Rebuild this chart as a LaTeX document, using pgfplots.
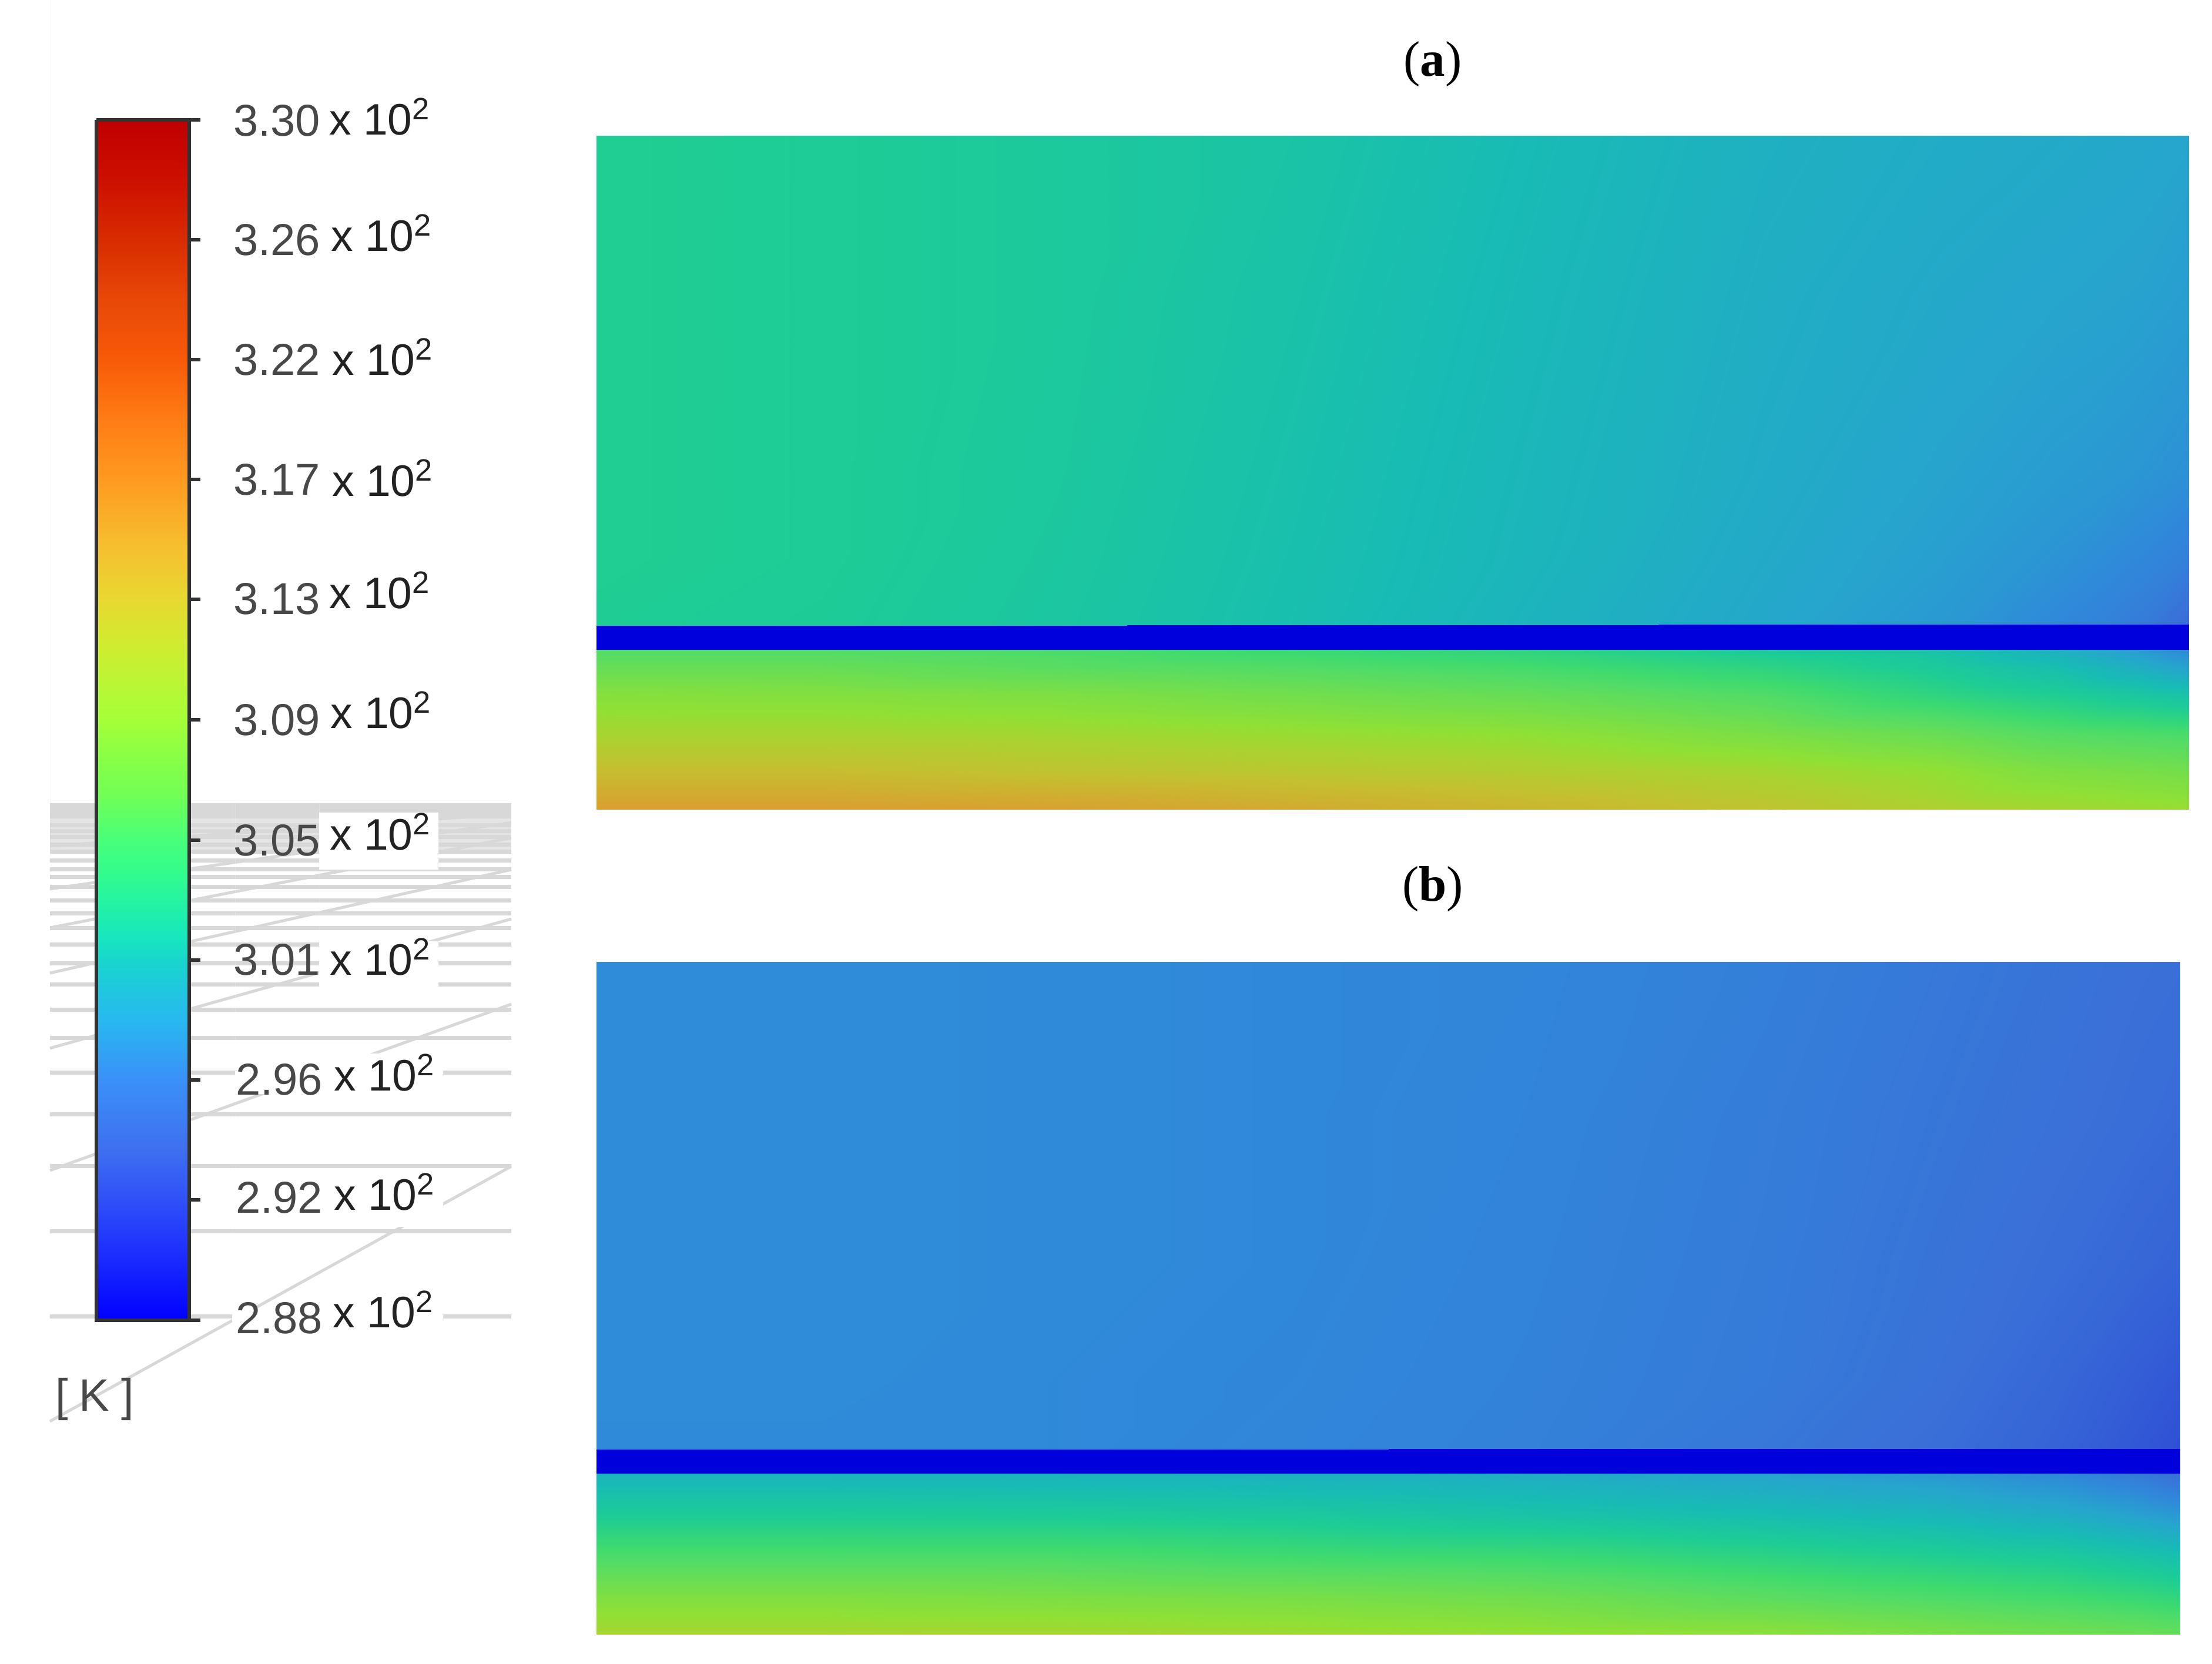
\documentclass[border=0pt]{standalone}
\usepackage{pgfplots}
\pgfplotsset{compat=1.18}
\usepackage{fontspec}
\setmainfont{Liberation Sans}
\newfontfamily\serifb{Liberation Serif}
\definecolor{numc}{HTML}{484848}
\definecolor{expc}{HTML}{222222}
\definecolor{gl}{HTML}{D8D8D8}
\pgfplotsset{
  pix/.style={at={(0,0)},anchor=south west,scale only axis,width=752.8pt,height=566.4pt,
    xmin=0,xmax=3764,ymin=0,ymax=2832,y dir=reverse,hide axis,clip=false},
  gh/.style={gl,line width=1.4pt},
  gd/.style={gl,line width=1pt},
  mask/.style={fill=white,draw=none},
  tk/.style={color=black!80,line width=1.2pt},
}
\newcommand{\lab}[5]{% number, x of number, baseline of number, x of "x", baseline of "x"
  \node[anchor=base west,inner sep=0pt,font=\fontsize{15.2}{18}\selectfont,text=numc] at (axis cs:#2,#3) {#1};
  \node[anchor=base west,inner sep=0pt,font=\fontsize{15}{18}\selectfont,text=expc] at (axis cs:#4,#5) {x 10\textsuperscript{2}};
}
\begin{document}
\begin{tikzpicture}
\path[use as bounding box] (0,0) rectangle (752.8pt,566.4pt);
% ---------- grey mesh, ticks and labels
\begin{axis}[pix]
\addplot[draw=none,fill=gl] coordinates {(85,1367)(870,1367)(870,1386)(85,1386)} \closedcycle;
\addplot[draw=none,fill=black!10] coordinates {(85,1386)(870,1386)(870,1450)(85,1450)} \closedcycle;
\addplot[gh] coordinates {(85,1390)(870,1390)};
\addplot[gh] coordinates {(85,1405)(870,1405)};
\addplot[gh] coordinates {(85,1415)(870,1415)};
\addplot[gh] coordinates {(85,1425)(870,1425)};
\addplot[gh] coordinates {(85,1438)(870,1438)};
\addplot[gh] coordinates {(85,1450)(870,1450)};
\addplot[gh] coordinates {(85,1465)(870,1465)};
\addplot[gh] coordinates {(85,1480)(870,1480)};
\addplot[gh] coordinates {(85,1493)(870,1493)};
\addplot[gh] coordinates {(85,1510)(870,1510)};
\addplot[gh] coordinates {(85,1533)(870,1533)};
\addplot[gh] coordinates {(85,1555)(870,1555)};
\addplot[gh] coordinates {(85,1580)(870,1580)};
\addplot[gh] coordinates {(85,1608)(870,1608)};
\addplot[gh] coordinates {(85,1640)(870,1640)};
\addplot[gh] coordinates {(85,1676)(870,1676)};
\addplot[gh] coordinates {(85,1719)(870,1719)};
\addplot[gh] coordinates {(85,1767)(870,1767)};
\addplot[gh] coordinates {(85,1826)(870,1826)};
\addplot[gh] coordinates {(85,1897)(870,1897)};
\addplot[gh] coordinates {(85,1985)(870,1985)};
\addplot[gh] coordinates {(85,2096)(870,2096)};
\addplot[gh] coordinates {(85,2241)(870,2241)};
\addplot[gd] coordinates {(85,2419)(870,1985)};
\addplot[gd] coordinates {(85,1992)(870,1709)};
\addplot[gd] coordinates {(85,1784)(870,1564)};
\addplot[gd] coordinates {(85,1656)(870,1480)};
\addplot[gd] coordinates {(85,1579)(870,1426)};
\addplot[gd] coordinates {(85,1513)(870,1400)};
\addplot[gd] coordinates {(85,1440)(870,1385)};
% white boxes behind the labels
\addplot[mask] coordinates {(543,1383)(746,1383)(746,1480)(543,1480)} \closedcycle;
\addplot[mask] coordinates {(543,1602)(746,1602)(746,1679)(543,1679)} \closedcycle;
\addplot[mask] coordinates {(400,1793)(754,1793)(754,1862)(400,1862)} \closedcycle;
\addplot[mask] coordinates {(400,1992)(754,1992)(754,2088)(400,2088)} \closedcycle;
\addplot[mask] coordinates {(395,2226)(754,2226)(754,2280)(395,2280)} \closedcycle;
% ticks
\addplot[tk] coordinates {(322,204)(341,204)};
\addplot[tk] coordinates {(322,408)(341,408)};
\addplot[tk] coordinates {(322,612)(341,612)};
\addplot[tk] coordinates {(322,816)(341,816)};
\addplot[tk] coordinates {(322,1020)(341,1020)};
\addplot[tk] coordinates {(322,1225)(341,1225)};
\addplot[tk] coordinates {(322,1430)(341,1430)};
\addplot[tk] coordinates {(322,1634)(341,1634)};
\addplot[tk] coordinates {(322,1838)(341,1838)};
\addplot[tk] coordinates {(322,2042)(341,2042)};
\addplot[tk] coordinates {(322,2247)(341,2247)};
\lab{3.30}{396}{232}{559}{230}
\lab{3.26}{396}{435}{562}{428}
\lab{3.22}{396}{639}{564}{639}
\lab{3.17}{396}{843}{564}{845}
\lab{3.13}{396}{1046}{559}{1036}
\lab{3.09}{396}{1252}{561}{1240}
\lab{3.05}{396}{1457}{560}{1447}
\lab{3.01}{396}{1660}{560}{1660}
\lab{2.96}{400}{1864}{567}{1857}
\lab{2.92}{400}{2065}{567}{2060}
\lab{2.88}{400}{2270}{565}{2260}
\node[anchor=base west,inner sep=0pt,font=\fontsize{15.5}{18}\selectfont,text=numc] at (axis cs:93,2402) {[\hspace{3.8pt}K\hspace{4pt}]};
\node[anchor=base,inner sep=0pt,font=\fontsize{17}{20}\selectfont\serifb] at (axis cs:2438,130) {(\textbf{a})};
\node[anchor=base,inner sep=0pt,font=\fontsize{17}{20}\selectfont\serifb] at (axis cs:2438,1534) {(\textbf{b})};
\end{axis}
% ---------- colour bar
\begin{axis}[pix,view={0}{90},point meta min=288,point meta max=330,
  colormap={cbar}{
    rgb255(288)=(0,0,255) rgb255(290.1)=(26,42,255) rgb255(292.2)=(48,80,248)
    rgb255(294)=(63,112,240) rgb255(296.4)=(58,144,248) rgb255(298.5)=(40,184,240)
    rgb255(300.6)=(24,214,205) rgb255(301.3)=(24,228,192) rgb255(302.3)=(32,240,170)
    rgb255(303.8)=(53,253,138) rgb255(304.8)=(72,255,122) rgb255(306.4)=(114,255,85)
    rgb255(307.5)=(133,255,72) rgb255(309)=(165,255,56) rgb255(311.6)=(208,236,48)
    rgb255(313.2)=(232,216,48)
    rgb255(315)=(245,192,48) rgb255(317.4)=(255,154,32) rgb255(319.5)=(255,124,21)
    rgb255(321.6)=(248,90,8) rgb255(323.7)=(232,72,8) rgb255(325.8)=(216,44,0)
    rgb255(328)=(204,14,0) rgb255(330)=(192,0,0)}]
\addplot3[surf,shader=interp,mesh/cols=2] coordinates {
(163,204,330) (322,204,330)

(163,408,325.8) (322,408,325.8)

(163,612,321.6) (322,612,321.6)

(163,816,317.4) (322,816,317.4)

(163,1020,313.2) (322,1020,313.2)

(163,1225,309) (322,1225,309)

(163,1430,304.8) (322,1430,304.8)

(163,1634,300.6) (322,1634,300.6)

(163,1838,296.4) (322,1838,296.4)

(163,2042,292.2) (322,2042,292.2)

(163,2247,288) (322,2247,288)
};
\addplot3[black!80,line width=1.2pt] coordinates {(164,204,330)(322,204,330)(322,2247,288)(164,2247,288)(164,204,330)};
\end{axis}
% ---------- the two temperature fields
\begin{axis}[pix,view={0}{90},point meta min=288,point meta max=311.5,
  colormap={panel}{
    rgb255(288)=(0,0,220) rgb255(290.5)=(47,80,213) rgb255(293)=(58,112,216)
    rgb255(295)=(48,136,218) rgb255(297)=(38,165,205) rgb255(299)=(24,187,181)
    rgb255(301)=(29,204,150) rgb255(303)=(62,218,112) rgb255(304)=(85,220,101)
    rgb255(307)=(144,224,53) rgb255(308)=(168,212,48) rgb255(309.5)=(196,192,48)
    rgb255(311.5)=(218,158,48)}]
% (a) upper part
\addplot3[surf,shader=interp,mesh/cols=10] coordinates {
(1015,231,301.2)(1400,231,301)(1800,231,300.6)(2200,231,300)(2600,231,299)(3000,231,298)(3300,231,297.6)(3500,231,297.4)(3640,231,297.2)(3725,231,297)

(1015,500,301.2)(1400,500,301)(1800,500,300.6)(2200,500,299.8)(2600,500,298.8)(3000,500,297.8)(3300,500,297.3)(3500,500,297)(3640,500,296.8)(3725,500,296.5)

(1015,800,301.2)(1400,800,301)(1800,800,300.5)(2200,800,299.6)(2600,800,298.6)(3000,800,297.6)(3300,800,296.9)(3500,800,296.4)(3640,800,296)(3725,800,295.6)

(1015,950,301.2)(1400,950,301)(1800,950,300.4)(2200,950,299.5)(2600,950,298.5)(3000,950,297.4)(3300,950,296.6)(3500,950,295.8)(3640,950,295)(3725,950,294.3)

(1015,1065,301.1)(1400,1065,300.9)(1800,1065,300.3)(2200,1065,299.4)(2600,1065,298.3)(3000,1065,297.2)(3300,1065,296.2)(3500,1065,295)(3640,1065,294)(3725,1065,292.5)
};
% (a) lower part
\addplot3[surf,shader=interp,mesh/cols=10] coordinates {
(1015,1105,303.8)(1400,1105,303.8)(1800,1105,303.4)(2200,1105,302.7)(2600,1105,302)(3000,1105,300.7)(3300,1105,299.8)(3500,1105,298)(3640,1105,296.3)(3725,1105,295)

(1015,1140,305)(1400,1140,305)(1800,1140,304.4)(2200,1140,304)(2600,1140,303.4)(3000,1140,302.2)(3300,1140,300.8)(3500,1140,299.5)(3640,1140,298)(3725,1140,297)

(1015,1180,306.4)(1400,1180,306.3)(1800,1180,306)(2200,1180,305.4)(2600,1180,304.8)(3000,1180,303.7)(3300,1180,302)(3500,1180,301)(3640,1180,300.2)(3725,1180,299.7)

(1015,1250,308)(1400,1250,308)(1800,1250,307.8)(2200,1250,307.4)(2600,1250,307)(3000,1250,305.9)(3300,1250,305)(3500,1250,304)(3640,1250,303.7)(3725,1250,303.5)

(1015,1310,309.6)(1400,1310,309.6)(1800,1310,309.2)(2200,1310,308.9)(2600,1310,308.5)(3000,1310,307.8)(3300,1310,307)(3500,1310,306)(3640,1310,305.7)(3725,1310,305.5)

(1015,1377,311.5)(1400,1377,311.5)(1800,1377,311.3)(2200,1377,310.8)(2600,1377,310.2)(3000,1377,309.3)(3300,1377,308.3)(3500,1377,307.8)(3640,1377,307.5)(3725,1377,307.3)
};
% (a) cold layer
\addplot3[surf,shader=interp,mesh/cols=2] coordinates {
(1015,1065,288)(3725,1062,288)

(1015,1105,288)(3725,1105,288)
};
% (b) upper part
\addplot3[surf,shader=interp,mesh/cols=10] coordinates {
(1015,1637,295.3)(1400,1637,295.3)(1800,1637,295.2)(2200,1637,295)(2600,1637,294.8)(3000,1637,294.3)(3300,1637,293.7)(3500,1637,293.3)(3640,1637,293)(3710,1637,292.9)

(1015,1900,295.3)(1400,1900,295.3)(1800,1900,295.2)(2200,1900,295)(2600,1900,294.7)(3000,1900,294.1)(3300,1900,293.5)(3500,1900,293.1)(3640,1900,292.8)(3710,1900,292.6)

(1015,2150,295.3)(1400,2150,295.3)(1800,2150,295.2)(2200,2150,295)(2600,2150,294.6)(3000,2150,294)(3300,2150,293.3)(3500,2150,292.8)(3640,2150,292.3)(3710,2150,292)

(1015,2350,295.3)(1400,2350,295.3)(1800,2350,295.1)(2200,2350,294.9)(2600,2350,294.5)(3000,2350,293.9)(3300,2350,293.1)(3500,2350,292.3)(3640,2350,291.5)(3710,2350,291)

(1015,2467,295.2)(1400,2467,295.2)(1800,2467,295.1)(2200,2467,294.8)(2600,2467,294.4)(3000,2467,293.6)(3300,2467,292.8)(3500,2467,292)(3640,2467,291)(3710,2467,290.5)
};
% (b) lower part
\addplot3[surf,shader=interp,mesh/cols=10] coordinates {
(1015,2507,298.3)(1400,2507,298.3)(1800,2507,298.2)(2200,2507,298)(2600,2507,297.6)(3000,2507,296.8)(3300,2507,296)(3500,2507,295)(3640,2507,293.8)(3710,2507,292.8)

(1015,2580,301)(1400,2580,301)(1800,2580,300.9)(2200,2580,300.6)(2600,2580,300)(3000,2580,299.3)(3300,2580,298.6)(3500,2580,297.8)(3640,2580,296.8)(3710,2580,296.2)

(1015,2650,303.6)(1400,2650,303.6)(1800,2650,303.6)(2200,2650,303.1)(2600,2650,302.9)(3000,2650,302)(3300,2650,301.3)(3500,2650,300.8)(3640,2650,300)(3710,2650,299.5)

(1015,2720,306.2)(1400,2720,306.2)(1800,2720,306)(2200,2720,305.8)(2600,2720,305.4)(3000,2720,304.4)(3300,2720,303.7)(3500,2720,303.2)(3640,2720,302.7)(3710,2720,302.3)

(1015,2781,308)(1400,2781,308)(1800,2781,307.9)(2200,2781,307.6)(2600,2781,307.2)(3000,2781,306.8)(3300,2781,306)(3500,2781,305.5)(3640,2781,305.1)(3710,2781,304.8)
};
% (b) cold layer
\addplot3[surf,shader=interp,mesh/cols=2] coordinates {
(1015,2467,288)(3710,2465,288)

(1015,2507,288)(3710,2507,288)
};
\end{axis}
\end{tikzpicture}
\end{document}
